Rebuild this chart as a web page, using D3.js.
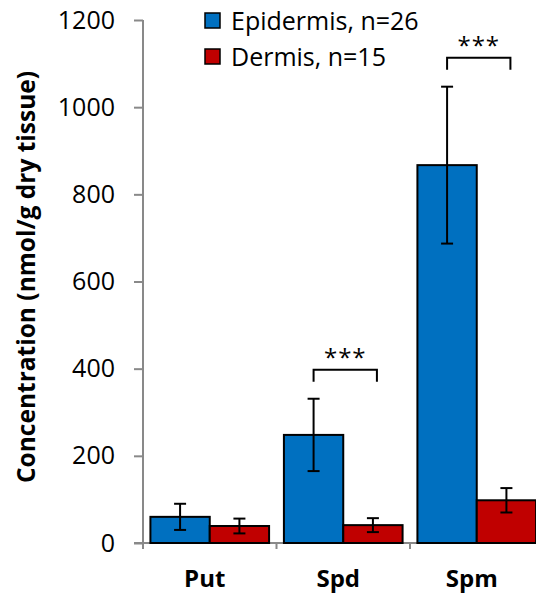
<!DOCTYPE html>
<html><head><meta charset="utf-8">
<script src="https://cdn.jsdelivr.net/npm/d3@7"></script>
<style>
body{margin:0;background:#fff;}
svg{display:block;font-family:"Open Sans",sans-serif;}
</style></head>
<body><svg id="c" width="536" height="595"></svg>
<script>
const categories = ["Put","Spd","Spm"];
const seriesNames = ["Epidermis, n=26","Dermis, n=15"];
const epidermis = [60, 248, 867];
const epidermisErr = [30, 83, 180];
const dermis = [39, 41, 98];
const dermisErr = [17, 16, 28];
const yTicks = [0,200,400,600,800,1000,1200];
const significance = [{cat:"Spd", label:"***"},{cat:"Spm", label:"***"}];
const colors = ["#0070C0","#C00000"];

const svg = d3.select("#c");
const x0 = d3.scaleBand().domain(categories).range([143, 543.5]).paddingInner(0).paddingOuter(0);
const x1 = d3.scaleBand().domain([0,1]).range([0, x0.bandwidth()]).paddingOuter(0.125).paddingInner(0);
const y = d3.scaleLinear().domain([0,1200]).range([543,20]);
const axisColor = "#898989";

// y axis
const yAxis = svg.append("g").attr("transform","translate(143,0)")
  .call(d3.axisLeft(y).tickValues(yTicks).tickSize(9).tickPadding(19).tickFormat(d3.format("d")));
yAxis.select(".domain").attr("stroke",axisColor).attr("stroke-width",2).attr("d","M0,20V549");
yAxis.selectAll(".tick line").attr("stroke",axisColor).attr("stroke-width",2);
yAxis.selectAll(".tick text").attr("font-size",25).attr("fill","#000").attr("font-family","'Open Sans',sans-serif");

// x axis
const xAxis = svg.append("g").attr("transform","translate(0,543)");
xAxis.append("line").attr("x1",134).attr("x2",545).attr("stroke",axisColor).attr("stroke-width",2);
categories.forEach((c,i)=>{
  if(i>0) xAxis.append("line").attr("x1",x0(c)).attr("x2",x0(c)).attr("y1",0).attr("y2",6).attr("stroke",axisColor).attr("stroke-width",2);
});
svg.append("g").selectAll("text").data(categories).join("text")
  .attr("x",d=>x0(d)+x0.bandwidth()/2-5).attr("y",587)
  .attr("text-anchor","middle").attr("font-size",24).attr("font-weight","bold").text(d=>d);

// bars
const data = categories.map((c,i)=>({c, vals:[{s:0,v:epidermis[i],e:epidermisErr[i]},{s:1,v:dermis[i],e:dermisErr[i]}]}));
const groups = svg.append("g").selectAll("g").data(data).join("g")
  .attr("transform",d=>`translate(${x0(d.c)},0)`);
groups.selectAll("rect").data(d=>d.vals).join("rect")
  .attr("x",d=>x1(d.s)).attr("width",x1.bandwidth())
  .attr("y",d=>y(d.v)).attr("height",d=>y(0)-y(d.v))
  .attr("fill",d=>colors[d.s]).attr("stroke","#000").attr("stroke-width",2);
// error bars
const eb = groups.selectAll("g.err").data(d=>d.vals).join("g").attr("class","err")
  .attr("transform",d=>`translate(${x1(d.s)+x1.bandwidth()/2},0)`);
eb.append("line").attr("y1",d=>y(d.v+d.e)).attr("y2",d=>y(d.v-d.e)).attr("stroke","#000").attr("stroke-width",2);
eb.append("line").attr("x1",-6).attr("x2",6).attr("y1",d=>y(d.v+d.e)).attr("y2",d=>y(d.v+d.e)).attr("stroke","#000").attr("stroke-width",2);
eb.append("line").attr("x1",-6).attr("x2",6).attr("y1",d=>y(d.v-d.e)).attr("y2",d=>y(d.v-d.e)).attr("stroke","#000").attr("stroke-width",2);

// significance brackets
significance.forEach(s=>{
  const i = categories.indexOf(s.cat);
  const top = epidermis[i]+epidermisErr[i];
  const by = y(top) - 29;
  const xa = x0(s.cat)+x1(0)+x1.bandwidth()/2, xb = x0(s.cat)+x1(1)+x1.bandwidth()/2+4;
  svg.append("path").attr("d",`M${xa},${by+12}V${by}H${xb}V${by+12}`).attr("fill","none").attr("stroke","#000").attr("stroke-width",2);
  svg.append("text").attr("x",(xa+xb)/2).attr("y",by-4).attr("text-anchor","middle").attr("font-size",24).attr("letter-spacing",1).text(s.label);
});

// y label
svg.append("text").attr("transform","translate(35,277) rotate(-90)").attr("text-anchor","middle")
  .attr("font-size",24.5).attr("font-weight","bold").text("Concentration (nmol/g dry tissue)");

// legend
const lg = svg.append("g").selectAll("g").data(seriesNames).join("g")
  .attr("transform",(d,i)=>`translate(205,${13+i*36})`);
lg.append("rect").attr("width",15).attr("height",15).attr("fill",(d,i)=>colors[i]).attr("stroke","#000").attr("stroke-width",1.5);
lg.append("text").attr("x",26).attr("y",8).attr("dy","0.36em").attr("font-size",25).text(d=>d);
</script></body></html>
